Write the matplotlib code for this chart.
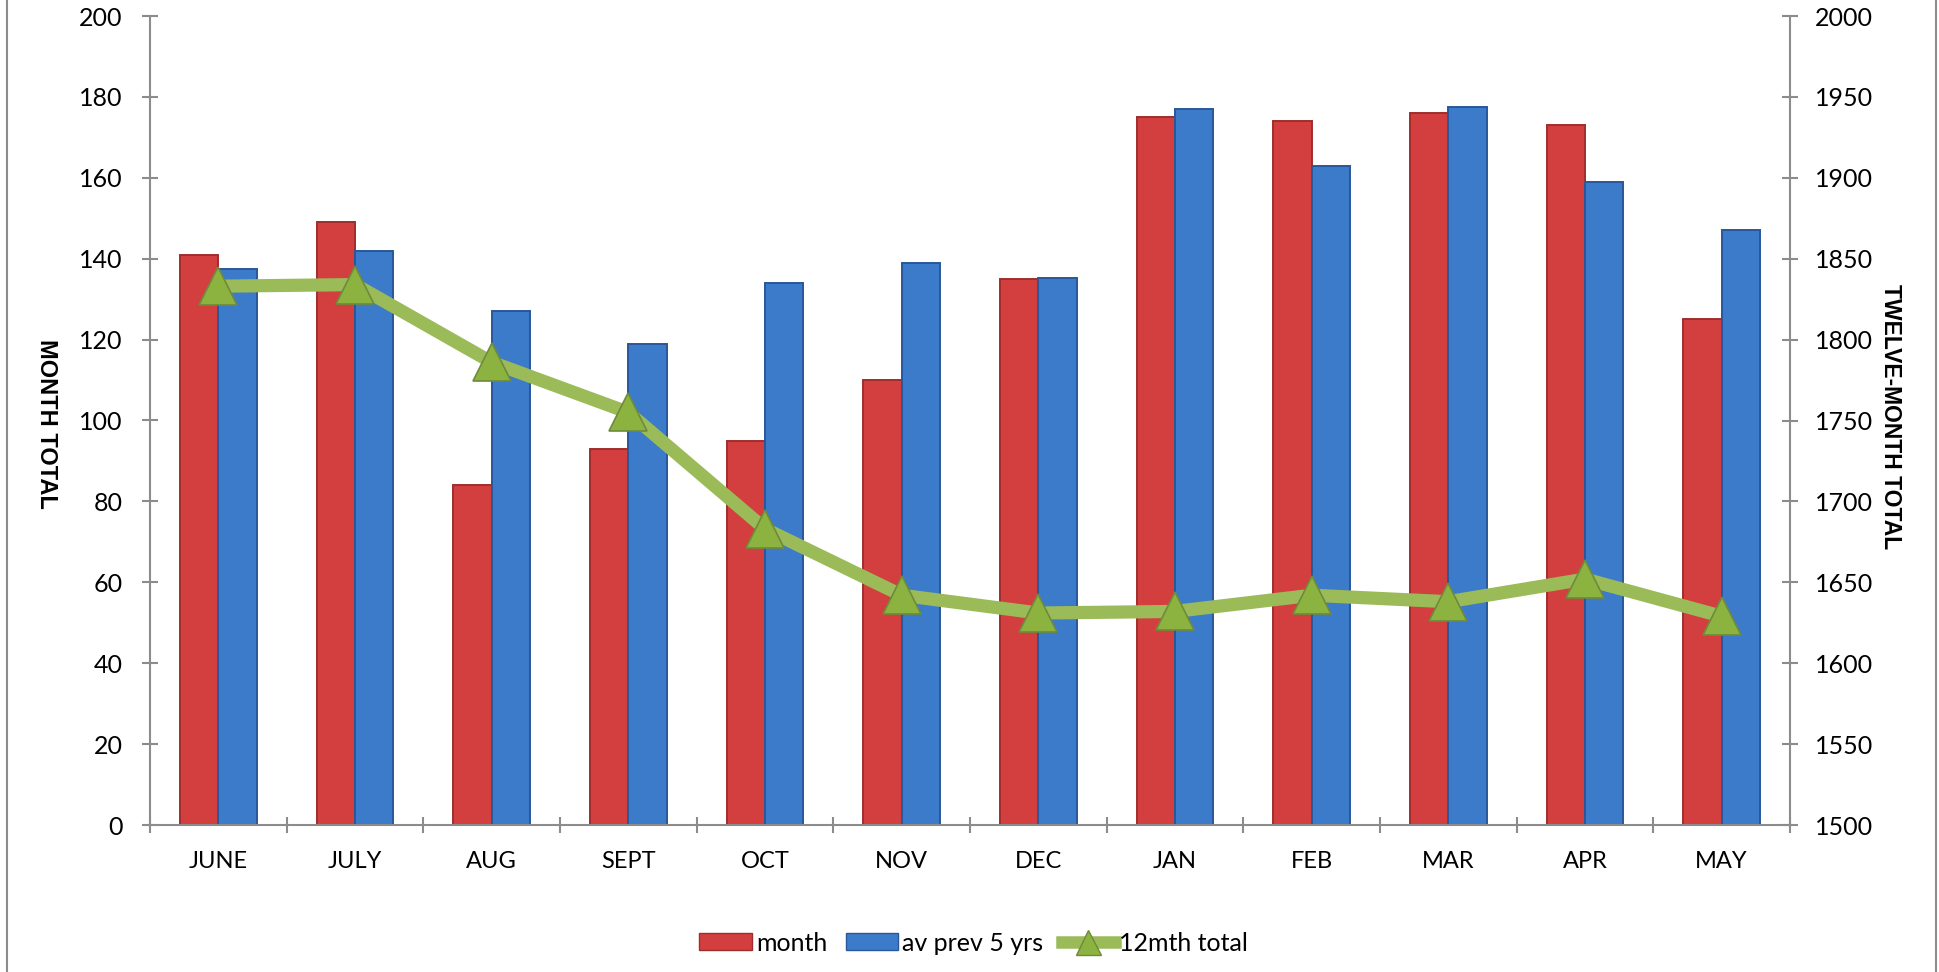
import numpy as np
import matplotlib
matplotlib.use("Agg")
import matplotlib.pyplot as plt
from matplotlib.lines import Line2D
from matplotlib.patches import Patch

plt.rcParams['font.family'] = ['Lato', 'DejaVu Sans']

months = ["JUNE", "JULY", "AUG", "SEPT", "OCT", "NOV", "DEC",
          "JAN", "FEB", "MAR", "APR", "MAY"]
month_total = [141, 149, 84, 93, 95, 110, 135, 175, 174, 176, 173, 125]
av_prev_5 = [137.5, 142, 127, 119, 134, 139, 135.2, 177, 163, 177.4, 159, 147]
twelve_mth = [1833, 1834, 1786, 1755, 1683, 1642, 1631, 1632, 1642, 1638, 1652, 1629]

red = "#D23F3E"
red_edge = "#9E2E2D"
blue = "#3C7BC9"
blue_edge = "#28589A"
green = "#9BBB59"
green_face = "#8CB33F"
green_edge = "#6E8A3A"
gray = "#8C8C8C"

fig = plt.figure(figsize=(19.39, 9.72), dpi=100)
ax = fig.add_axes([150/1939, 1-825/972, (1790-150)/1939, (825-16)/972])
ax2 = ax.twinx()

x = np.arange(len(months))
w = 0.28
ax.bar(x - w/2, month_total, w, color=red, edgecolor=red_edge, linewidth=1.4, zorder=2)
ax.bar(x + w/2, av_prev_5, w, color=blue, edgecolor=blue_edge, linewidth=1.4, zorder=2)

ax2.plot(x, twelve_mth, color=green, lw=9.5, solid_capstyle='butt', zorder=3)
ax2.plot(x, twelve_mth, ls='none', marker='^', ms=27, mfc=green_face,
         mec=green_edge, mew=1.2, zorder=4)

ax.set_xlim(-0.5, 11.5)
ax.set_ylim(0, 200)
ax2.set_ylim(1500, 2000)
ax.set_yticks(np.arange(0, 201, 20))
ax2.set_yticks(np.arange(1500, 2001, 50))

ax.set_xticks(x)
ax.set_xticklabels(months)
ax.set_xticks(np.arange(-0.5, 12, 1), minor=True)
ax.tick_params(axis='x', which='major', length=0, pad=19, labelsize=17)
ax.tick_params(axis='x', which='minor', direction='inout', length=11.5, width=1.5, color=gray)
ax.tick_params(axis='y', direction='inout', length=11.5, width=1.5, color=gray,
               pad=14, labelsize=18)
ax2.tick_params(axis='y', direction='inout', length=11.5, width=1.5, color=gray,
                pad=12, labelsize=18)

for a in (ax, ax2):
    for s in a.spines.values():
        s.set_visible(False)
ax.spines['left'].set_visible(True)
ax.spines['bottom'].set_visible(True)
ax2.spines['right'].set_visible(True)
for s in (ax.spines['left'], ax.spines['bottom'], ax2.spines['right']):
    s.set_color(gray)
    s.set_linewidth(1.5)

fig.text(46/1939, 1-424/972, "MONTH TOTAL", rotation=-90, ha='center', va='center',
         fontsize=17, fontweight='bold', family='Liberation Sans')
fig.text(1890/1939, 1-417/972, "TWELVE-MONTH TOTAL", rotation=-90, ha='center', va='center',
         fontsize=16.5, fontweight='bold', family='Liberation Sans')

handles = [Patch(facecolor=red, edgecolor=red_edge, label="month"),
           Patch(facecolor=blue, edgecolor=blue_edge, label="av prev 5 yrs"),
           Line2D([], [], color=green, lw=9, marker='^', ms=18, mfc=green_face,
                  mec=green_edge, label="12mth total")]
fig.legend(handles=handles, loc='center', bbox_to_anchor=(0.502, 1-943/972), ncol=3,
           frameon=False, fontsize=18, handlelength=2.1, handleheight=0.64,
           handletextpad=0.16, columnspacing=0.75)

# chart area border (left and right edges)
fig.add_artist(Line2D([7/1939, 7/1939], [0, 1], color=gray, lw=1.5))
fig.add_artist(Line2D([1936/1939, 1936/1939], [0, 1], color=gray, lw=1.5))

fig.savefig("out.png", dpi=100)
